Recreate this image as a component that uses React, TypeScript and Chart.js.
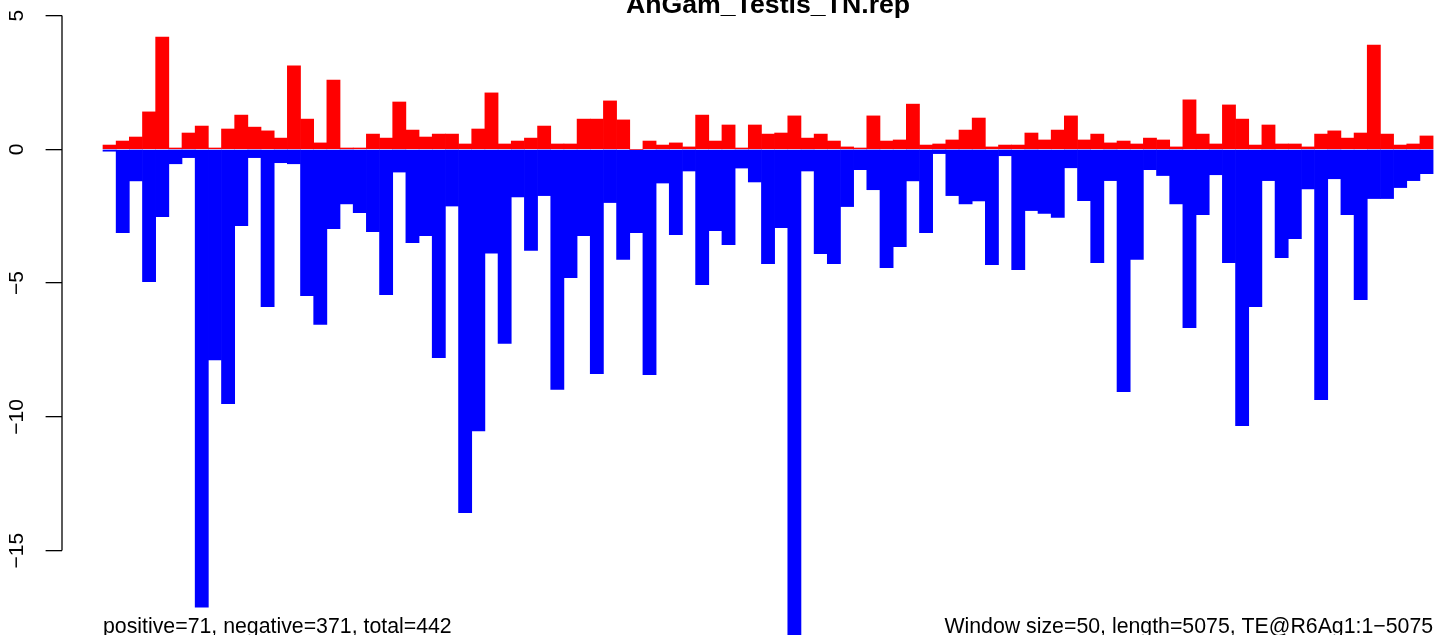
import React, { useEffect, useRef } from 'react';
import { Chart, registerables } from 'chart.js';

Chart.register(...registerables);

const TITLE = 'AnGam_Testis_TN.rep';
const LEFT_NOTE = 'positive=71, negative=371, total=442';
const RIGHT_NOTE = 'Window size=50, length=5075, TE@R6Ag1:1\u22125075';
const WINDOW = 50;
const Y_TICKS = [5, 0, -5, -10, -15];

const POSITIVE = [
  0.16, 0.31, 0.46, 1.40, 4.20, 0.05, 0.61, 0.87, 0.05, 0.76,
  1.28, 0.83, 0.69, 0.42, 3.12, 1.13, 0.24, 2.59, 0.05, 0.05,
  0.57, 0.42, 1.77, 0.72, 0.46, 0.57, 0.57, 0.20, 0.76, 2.11,
  0.20, 0.31, 0.42, 0.87, 0.20, 0.20, 1.13, 1.13, 1.81, 1.10,
  0.00, 0.31, 0.16, 0.24, 0.09, 1.28, 0.31, 0.91, 0.05, 0.91,
  0.57, 0.61, 1.25, 0.42, 0.57, 0.31, 0.09, 0.05, 1.25, 0.31,
  0.35, 1.69, 0.16, 0.20, 0.35, 0.72, 1.17, 0.09, 0.16, 0.16,
  0.61, 0.35, 0.72, 1.25, 0.35, 0.57, 0.24, 0.31, 0.20, 0.42,
  0.35, 0.09, 1.85, 0.57, 0.20, 1.66, 1.13, 0.16, 0.91, 0.20,
  0.20, 0.09, 0.57, 0.69, 0.42, 0.61, 3.90, 0.57, 0.16, 0.20,
  0.50,
];

const NEGATIVE = [
  -0.07, -3.12, -1.18, -4.95, -2.52, -0.54, -0.31, -17.12, -7.87, -9.51,
  -2.85, -0.31, -5.88, -0.50, -0.54, -5.47, -6.55, -2.97, -2.04, -2.37,
  -3.08, -5.43, -0.85, -3.49, -3.23, -7.79, -2.12, -13.58, -10.53, -3.88,
  -7.26, -1.78, -3.78, -1.73, -8.98, -4.80, -3.23, -8.39, -1.99, -4.12,
  -3.12, -8.42, -1.26, -3.19, -0.81, -5.06, -3.04, -3.56, -0.70, -1.22,
  -4.27, -2.93, -18.60, -0.81, -3.90, -4.27, -2.14, -0.76, -1.51, -4.42,
  -3.64, -1.18, -3.12, -0.16, -1.73, -2.04, -1.93, -4.31, -0.24, -4.50,
  -2.29, -2.40, -2.55, -0.69, -1.92, -4.24, -1.17, -9.06, -4.12, -0.76,
  -0.98, -2.04, -6.67, -2.44, -0.95, -4.24, -10.33, -5.88, -1.17, -4.05,
  -3.34, -1.48, -9.36, -1.10, -2.44, -5.62, -1.84, -1.84, -1.43, -1.17,
  -0.91,
];

// window midpoints (bp) used as x positions
const WINDOW_MID = POSITIVE.map((_, i) => i * WINDOW + WINDOW / 2);
const SPAN = POSITIVE.length * WINDOW;

const FONT = "'Liberation Sans', Arial, Helvetica, sans-serif";

const overlayPlugin = {
  id: 'rOverlay',
  afterDraw(chart: any) {
    const { ctx } = chart;
    const xs = chart.scales.x;
    const ys = chart.scales.y;
    ctx.save();
    // y axis line (R style, from first to last tick)
    ctx.strokeStyle = '#000';
    ctx.lineWidth = 1.3;
    const ax = chart.chartArea.left;
    ctx.beginPath();
    ctx.moveTo(ax, ys.getPixelForValue(Y_TICKS[0]));
    ctx.lineTo(ax, ys.getPixelForValue(Y_TICKS[Y_TICKS.length - 1]));
    ctx.stroke();

    ctx.fillStyle = '#000';
    ctx.textBaseline = 'alphabetic';
    ctx.font = `bold 26.7px ${FONT}`;
    ctx.textAlign = 'center';
    ctx.fillText(TITLE, xs.getPixelForValue(SPAN / 2), 13.3);

    ctx.font = `21.3px ${FONT}`;
    ctx.textAlign = 'left';
    ctx.fillText(LEFT_NOTE, xs.getPixelForValue(0), 633);
    ctx.textAlign = 'right';
    ctx.fillText(RIGHT_NOTE, xs.getPixelForValue(SPAN), 633);
    ctx.restore();
  },
};

export default function App() {
  const ref = useRef<HTMLCanvasElement | null>(null);

  useEffect(() => {
    if (!ref.current) return;
    const chart = new Chart(ref.current, {
      type: 'bar',
      data: {
        datasets: [
          {
            label: 'positive',
            data: POSITIVE.map((v, i) => ({ x: WINDOW_MID[i], y: v })),
            backgroundColor: '#ff0000',
            borderWidth: 0,
            grouped: false,
            categoryPercentage: 1,
            barPercentage: 1,
          },
          {
            label: 'negative',
            data: NEGATIVE.map((v, i) => ({ x: WINDOW_MID[i], y: v })),
            backgroundColor: '#0000ff',
            borderWidth: 0,
            grouped: false,
            categoryPercentage: 1,
            barPercentage: 1,
          },
        ] as any,
      },
      options: {
        animation: false,
        responsive: false,
        devicePixelRatio: 1,
        events: [],
        layout: { padding: 0 },
        plugins: {
          legend: { display: false },
          tooltip: { enabled: false },
          title: { display: false },
        },
        scales: {
          x: {
            type: 'linear',
            offset: false,
            min: -155.6,
            max: 5080,
            display: false,
          },
          y: {
            type: 'linear',
            min: -18.156,
            max: 5.5825,
            afterBuildTicks: (s: any) => {
              s.ticks = Y_TICKS.map((v) => ({ value: v }));
            },
            afterFit: (s: any) => {
              s.width = 62;
              s.paddingTop = 0;
              s.paddingBottom = 0;
            },
            border: { display: false },
            grid: {
              display: true,
              drawOnChartArea: false,
              drawTicks: true,
              tickLength: 16.4,
              color: '#000',
              lineWidth: 1.3,
            },
            ticks: {
              autoSkip: false,
              minRotation: 90,
              maxRotation: 90,
              crossAlign: 'center',
              padding: 10.3,
              color: '#000',
              font: { family: FONT, size: 21 },
              callback: (v: any) => String(v).replace('-', '\u2212'),
            },
          },
        },
      } as any,
      plugins: [overlayPlugin],
    });
    return () => chart.destroy();
  }, []);

  return (
    <div style={{ position: 'fixed', left: 0, top: 0, width: 1441, height: 635, background: '#fff' }}>
      <canvas ref={ref} width={1441} height={635} style={{ display: 'block', width: 1441, height: 635 }} />
    </div>
  );
}
